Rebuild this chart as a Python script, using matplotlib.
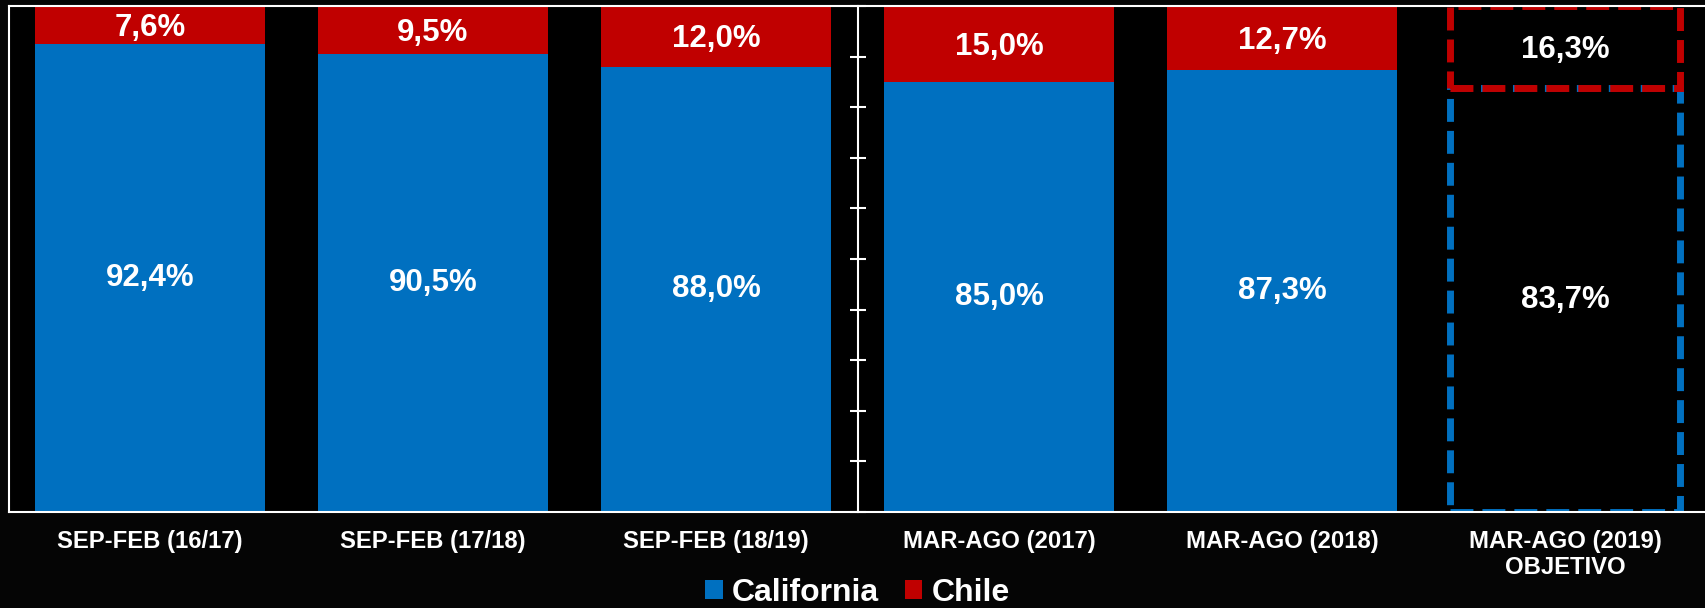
import matplotlib.pyplot as plt
import numpy as np

# share of imports: California vs Chile
categories = ['SEP-FEB (16/17)', 'SEP-FEB (17/18)', 'SEP-FEB (18/19)',
              'MAR-AGO (2017)', 'MAR-AGO (2018)', 'MAR-AGO (2019)\nOBJETIVO']
california = [92.4, 90.5, 88.0, 85.0, 87.3, 83.7]
chile = [7.6, 9.5, 12.0, 15.0, 12.7, 16.3]
is_target = [False, False, False, False, False, True]

blue = '#0070C0'
red = '#C00000'

plt.rcParams['font.family'] = ['Liberation Sans', 'DejaVu Sans']
plt.rcParams['font.weight'] = 'bold'

fig = plt.figure(figsize=(17.05, 6.08), dpi=100, facecolor='#050505')
ax = fig.add_axes([0.005, 0.158, 0.9959, 0.8322])
ax.set_facecolor('black')

x = np.arange(len(categories))
cal = np.array(california)
chi = np.array(chile)
tgt = np.array(is_target)
w = 0.81

# real values: filled bars
ax.bar(x[~tgt], cal[~tgt], w, color=blue, label='California')
ax.bar(x[~tgt], chi[~tgt], w, bottom=cal[~tgt], color=red, label='Chile')

# objective: dashed outline only
dash = (0, (3.3, 1.3))
ax.bar(x[tgt], cal[tgt], w, fill=False, edgecolor=blue, linestyle=dash, linewidth=5)
ax.bar(x[tgt], chi[tgt], w, bottom=cal[tgt], fill=False, edgecolor=red, linestyle=dash, linewidth=5)

def fmt(v):
    return f'{v:.1f}%'.replace('.', ',')

for xi, c, h in zip(x, cal, chi):
    ax.text(xi, c / 2, fmt(c), ha='center', va='center', color='white', fontsize=22.5, fontweight='bold')
    ax.text(xi, c + h / 2 - 0.6, fmt(h), ha='center', va='center', color='white', fontsize=22.5, fontweight='bold')

ax.set_xlim(-0.5, len(categories) - 0.5)
ax.set_ylim(0, 100)
ax.set_yticks([])
ax.set_xticks(x)
ax.set_xticklabels(categories, linespacing=1.15)
ax.tick_params(axis='x', length=0, pad=13, labelsize=17.2, labelcolor='white')
for s in ['left', 'top', 'bottom']:
    ax.spines[s].set_color('white')
    ax.spines[s].set_linewidth(1.5)
ax.spines['right'].set_visible(False)

# middle axis between the two seasons
ax2 = ax.twinx()
ax2.set_ylim(0, 100)
ax2.set_yticks(np.arange(0, 101, 10))
ax2.spines['right'].set_position(('data', 2.5))
ax2.spines['right'].set_color('white')
ax2.spines['right'].set_linewidth(1.5)
for s in ['left', 'top', 'bottom']:
    ax2.spines[s].set_visible(False)
ax2.tick_params(axis='y', direction='inout', length=11, width=1.5, color='white', labelright=False)

fig.legend(*ax.get_legend_handles_labels(), loc='center', bbox_to_anchor=(0.503, 15 / 608), ncol=2,
           frameon=False, fontsize=23, handlelength=0.55, handleheight=0.55,
           handletextpad=0.3, columnspacing=0.8, labelcolor='white')

fig.savefig('out.png', dpi=100, facecolor=fig.get_facecolor())
